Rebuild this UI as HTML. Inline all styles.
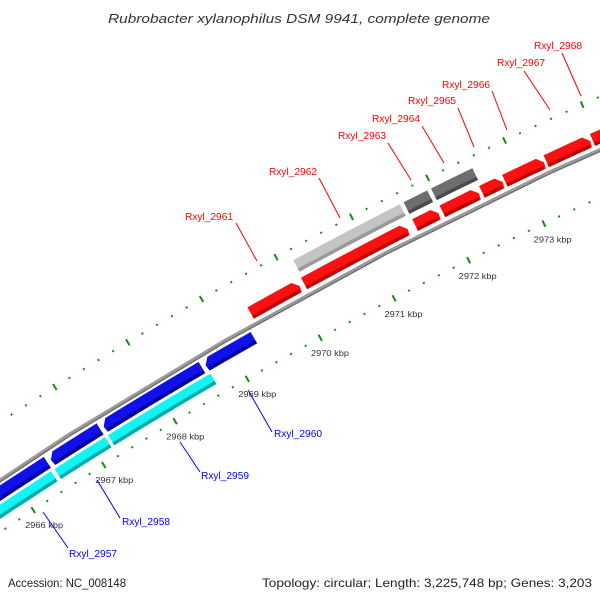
<!DOCTYPE html>
<html><head><meta charset="utf-8"><style>
html,body{margin:0;padding:0;background:#fff;width:600px;height:600px;overflow:hidden;}
svg{display:block;overflow:hidden;font-family:"Liberation Sans","DejaVu Sans",sans-serif;}
</style></head><body>
<svg id="map" width="600" height="600" viewBox="0 0 600 600" xmlns="http://www.w3.org/2000/svg">
<rect width="600" height="600" fill="#fff"/>
<g id="ticks"></g>
<g id="backbone"></g>
<g id="features"></g>
<g id="kbp"></g>
<g id="glabels"></g>
<text x="299" y="23" text-anchor="middle" font-size="13" font-style="italic" fill="#333" textLength="382" lengthAdjust="spacingAndGlyphs">Rubrobacter xylanophilus DSM 9941, complete genome</text>
<text x="8" y="587" font-size="12" fill="#222" textLength="118" lengthAdjust="spacingAndGlyphs">Accession: NC_008148</text>
<text x="592" y="587" text-anchor="end" font-size="12" fill="#222" textLength="330" lengthAdjust="spacingAndGlyphs">Topology: circular; Length: 3,225,748 bp; Genes: 3,203</text>
</svg>
<script>
// data (kbp)
const kbpTicks = [2966, 2967, 2968, 2969, 2970, 2971, 2972, 2973, 2974];
const redStarts = [2969.42, 2970.14, 2971.62, 2971.98, 2972.50, 2972.80, 2973.34, 2973.94];
const redEnds   = [2970.08, 2971.52, 2971.93, 2972.46, 2972.77, 2973.31, 2973.91, 2974.60];
const grayStarts = [2970.16, 2971.62, 2971.98];
const grayEnds   = [2971.57, 2971.93, 2972.52];
const grayDark   = [false, true, true];
const blueStarts = [2963.00, 2966.50, 2967.24, 2968.65];
const blueEnds   = [2966.45, 2967.19, 2968.60, 2969.31];
const cyanStarts = [2963.00, 2966.48, 2967.23];
const cyanEnds   = [2966.43, 2967.19, 2968.65];
const redLabels = ["Rxyl_2961","Rxyl_2962","Rxyl_2963","Rxyl_2964","Rxyl_2965","Rxyl_2966","Rxyl_2967","Rxyl_2968"];
const blueLabels = ["Rxyl_2957","Rxyl_2958","Rxyl_2959","Rxyl_2960"];

// layout
const CX = 2377, CY = 4089, R0 = 4322;
const A0 = -2.1506, APK = 0.01957;
const NS = "http://www.w3.org/2000/svg";
function ang(k){ return A0 + APK*(k-2966); }
function pt(k, r){ const a = ang(k); return [CX + r*Math.cos(a), CY + r*Math.sin(a)]; }
function mk(tag, attrs, parent){ const e = document.createElementNS(NS, tag); for (const k in attrs) e.setAttribute(k, attrs[k]); parent.appendChild(e); return e; }
function arcPts(k1, k2, r){ const out=[]; const n=6; for(let i=0;i<=n;i++){ out.push(pt(k1+(k2-k1)*i/n, r)); } return out; }
function poly(points){ return points.map(p=>p[0].toFixed(2)+","+p[1].toFixed(2)).join(" "); }

// backbone
const bb = document.getElementById('backbone');
const bbLine = mk('polyline', {points: poly(arcPts(2962.5, 2975.5, R0)), fill:'none', stroke:'#9a9a9a', 'stroke-width':4}, bb);


const bbSh = mk('polyline', {points: poly(arcPts(2962.5, 2975.5, R0-1.3)), fill:'none', stroke:'#6e6e6e', 'stroke-width':1.3}, bb);



// tick rings
const tg = document.getElementById('ticks');
const rings = [R0-44, R0+48];
rings.forEach((rr) => {
  for (let k = 2962.4; k <= 2975.6; k += 0.2) {
    const kk = Math.round(k*10)/10;
    const major = Math.abs(kk - Math.round(kk)) < 0.01;
    const len = major ? 7 : 2;
    const p1 = pt(kk, rr-len/2), p2 = pt(kk, rr+len/2);
    const t = mk('line', {x1:p1[0], y1:p1[1], x2:p2[0], y2:p2[1], stroke:'#1a8a1a', 'stroke-width':2}, tg);
    
    
  }
});

// kbp labels
const kg = document.getElementById('kbp');
kbpTicks.forEach(k => {
  const p = pt(k, R0-61);
  const t = mk('text', {x:(p[0]+1.5).toFixed(1), y:(p[1]+3.5).toFixed(1), 'text-anchor':'middle', 'font-size':8.5, fill:'#333', textLength:38, lengthAdjust:'spacingAndGlyphs'}, kg);
  t.textContent = k + " kbp";
  
  
});

// features
const fg = document.getElementById('features');
function feature(s, e, ri, ro, col, dark, dir, name){
  const g = mk('g', {}, fg);
  
  
  const h = 0.07, rm = (ri+ro)/2;
  let pts;
  if (dir > 0) {
    pts = arcPts(s, e-h, ro).concat([pt(e, rm)], arcPts(e-h*0.15, s, ri));
  } else if (dir < 0) {
    pts = [pt(s, rm)].concat(arcPts(s+h, e, ro), arcPts(e, s+h*0.15, ri));
  } else {
    pts = arcPts(s, e, ro).concat(arcPts(e, s, ri));
  }
  mk('polygon', {points: poly(pts), fill: col}, g);
  const ds = dir < 0 ? s+h*0.35 : s, de = dir > 0 ? e-h*0.35 : e;
  const strip = arcPts(ds, de, ri+3.5).concat(arcPts(de, ds, ri));
  mk('polygon', {points: poly(strip), fill: dark}, g);
}
redStarts.forEach((s, i) => feature(s, redEnds[i], R0+5, R0+18, '#ff1010', '#c00000', 1, 'forward-gene'));
grayStarts.forEach((s, i) => feature(s, grayEnds[i], R0+24, R0+37, grayDark[i] ? '#6e6e6e' : '#c4c4c4', grayDark[i] ? '#4a4a4a' : '#9a9a9a', 0, 'forward-feature'));
blueStarts.forEach((s, i) => feature(s, blueEnds[i], R0-18, R0-5, '#1010e8', '#00009a', -1, 'reverse-gene'));
cyanStarts.forEach((s, i) => feature(s, cyanEnds[i], R0-33, R0-21, '#10f4f4', '#00aaaa', 0, 'reverse-feature'));

// gene labels (annotation positions)
const lg = document.getElementById('glabels');
const redAnno = [[257,261,236,223,209,220],[340,218,319,178,293,175],[411,180,388,143,362,139],[444,163,422,126,396,122],[474,147,458,108,432,104],[507,130,492,91,466,88],[550,110,524,71,521,66],[581,96,562,53,558,49]];
const blueAnno = [[43,512,68,548,93,557],[97,480,120,518,146,525],[180,442,200,472,225,479],[248,390,272,432,298,437]];
function anno(list, labels, col){
  list.forEach((a, i) => {
    const l = mk('line', {x1:a[0], y1:a[1], x2:a[2], y2:a[3], stroke:col, 'stroke-width':1}, lg);
    
    
    const t = mk('text', {x:a[4], y:a[5], 'text-anchor':'middle', 'font-size':10, fill:col, textLength:48, lengthAdjust:'spacingAndGlyphs'}, lg);
    t.textContent = labels[i];
    
    
  });
}
anno(redAnno, redLabels, '#ff0000');
anno(blueAnno, blueLabels, '#0000ff');
</script>
</body></html>
